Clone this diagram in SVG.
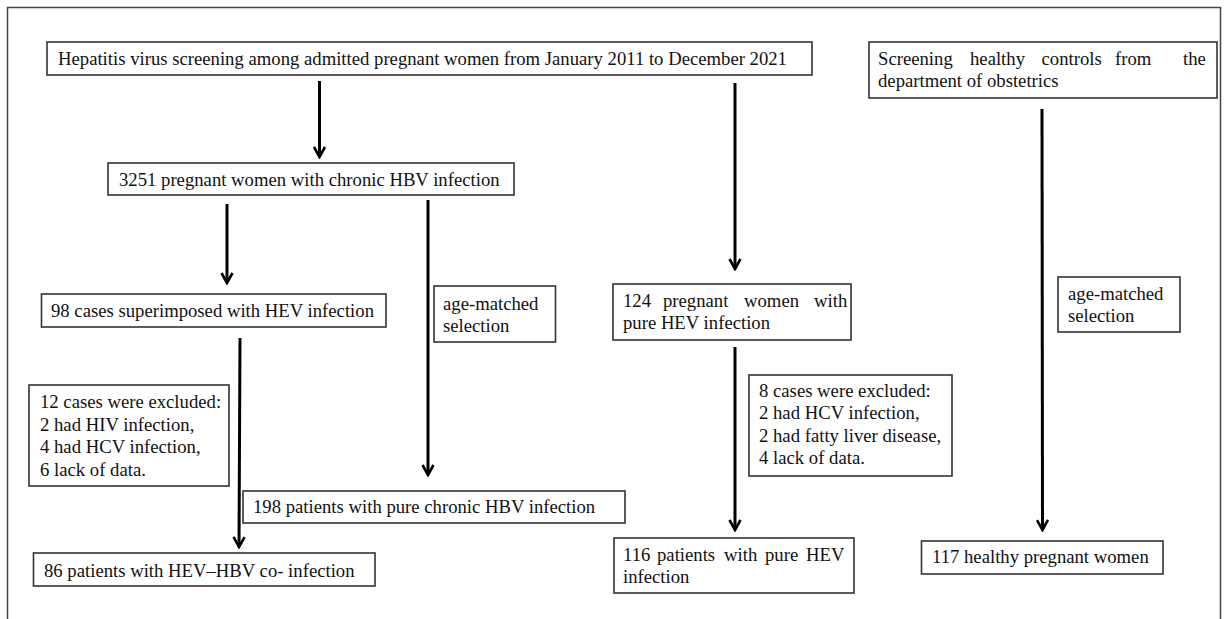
<svg xmlns="http://www.w3.org/2000/svg" width="1228" height="619" viewBox="0 0 1228 619">
<style>
.box{fill:#fff;stroke:#333;stroke-width:1.6}
.t{font-family:"Liberation Serif","Times New Roman",serif;font-size:18.7px;fill:#111}
.arr{stroke:#000;stroke-width:3;fill:none;marker-end:url(#ah)}
</style>
<defs>
<marker id="ah" markerUnits="userSpaceOnUse" viewBox="0 0 14 14" refX="12" refY="7" markerWidth="14" markerHeight="14" orient="auto">
<path d="M2,1.5 L12,7 L2,12.5" fill="none" stroke="#000" stroke-width="2.6"/>
</marker>
</defs>
<rect x="0" y="0" width="1228" height="619" fill="#fff"/>
<rect x="7.5" y="7.5" width="1213" height="700" fill="none" stroke="#444" stroke-width="1.5"/>
<g id="connectors">
<line class="arr" x1="319.5" y1="81" x2="319.5" y2="157"/>
<line class="arr" x1="227" y1="204" x2="227" y2="283"/>
<line class="arr" x1="428" y1="200" x2="428" y2="475"/>
<line class="arr" x1="735" y1="83" x2="735" y2="269"/>
<line class="arr" x1="240" y1="338" x2="239" y2="547"/>
<line class="arr" x1="735" y1="347" x2="735" y2="530"/>
<line class="arr" x1="1042" y1="109" x2="1042.5" y2="530"/>
</g>
<g id="screening">
<rect class="box" x="47" y="42" width="765" height="33"/>
<text class="t" x="58" y="65">Hepatitis virus screening among admitted pregnant women from January 2011 to December 2021</text>
</g>
<g id="controls">
<rect class="box" x="869" y="42" width="348" height="56"/>
<text class="t" y="65"><tspan x="878">Screening</tspan><tspan x="970">healthy</tspan><tspan x="1041.5">controls</tspan><tspan x="1115">from</tspan><tspan x="1183">the</tspan></text>
<text class="t" x="878" y="87">department of obstetrics</text>
</g>
<g id="hbv3251">
<rect class="box" x="108" y="163" width="406" height="32"/>
<text class="t" x="119" y="186">3251 pregnant women with chronic HBV infection</text>
</g>
<g id="hev98">
<rect class="box" x="41.5" y="294" width="344.5" height="33"/>
<text class="t" x="51" y="317">98 cases superimposed with HEV infection</text>
</g>
<g id="agematched1">
<rect class="box" x="434" y="286" width="121.5" height="56"/>
<text class="t" x="443" y="310">age-matched</text>
<text class="t" x="443" y="332">selection</text>
</g>
<g id="hev124">
<rect class="box" x="613" y="284" width="238" height="56"/>
<text class="t" y="307"><tspan x="623">124</tspan><tspan x="663">pregnant</tspan><tspan x="744">women</tspan><tspan x="814">with</tspan></text>
<text class="t" x="623" y="329">pure HEV infection</text>
</g>
<g id="agematched2">
<rect class="box" x="1058" y="277" width="122" height="55"/>
<text class="t" x="1068" y="300">age-matched</text>
<text class="t" x="1068" y="322">selection</text>
</g>
<g id="excluded12">
<rect class="box" x="29" y="385" width="200" height="101"/>
<text class="t" x="40" y="408">12 cases were excluded:</text>
<text class="t" x="40" y="431">2 had HIV infection,</text>
<text class="t" x="40" y="453">4 had HCV infection,</text>
<text class="t" x="40" y="476">6 lack of data.</text>
</g>
<g id="excluded8">
<rect class="box" x="749" y="375" width="203" height="101"/>
<text class="t" x="759" y="397">8 cases were excluded:</text>
<text class="t" x="759" y="419">2 had HCV infection,</text>
<text class="t" x="759" y="442">2 had fatty liver disease,</text>
<text class="t" x="759" y="464">4 lack of data.</text>
</g>
<g id="hbv198">
<rect class="box" x="243" y="491" width="382" height="32"/>
<text class="t" x="253" y="513">198 patients with pure chronic HBV infection</text>
</g>
<g id="coinf86">
<rect class="box" x="33.5" y="553" width="341.5" height="33"/>
<text class="t" x="44" y="577">86 patients with HEV–HBV co- infection</text>
</g>
<g id="hev116">
<rect class="box" x="614" y="538" width="240" height="55"/>
<text class="t" y="561"><tspan x="623">116</tspan><tspan x="657">patients</tspan><tspan x="724">with</tspan><tspan x="765">pure</tspan><tspan x="806">HEV</tspan></text>
<text class="t" x="623" y="583">infection</text>
</g>
<g id="healthy117">
<rect class="box" x="921.5" y="541" width="241.5" height="33"/>
<text class="t" x="932" y="563">117 healthy pregnant women</text>
</g>
</svg>
